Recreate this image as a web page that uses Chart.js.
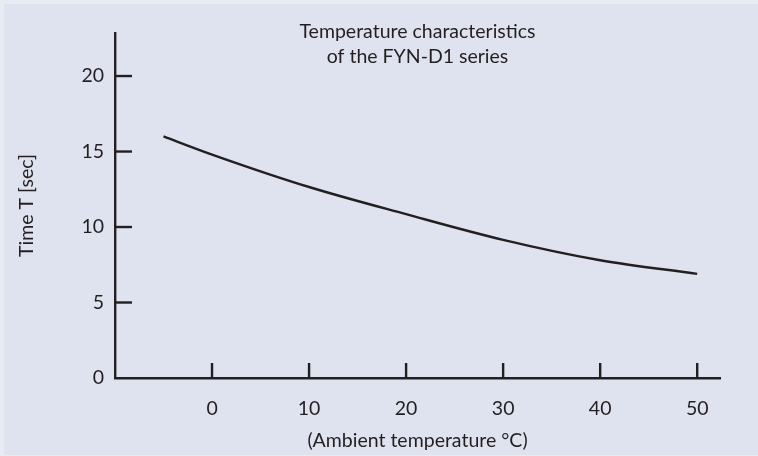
<!DOCTYPE html>
<html>
<head>
<meta charset="utf-8">
<script src="https://cdn.jsdelivr.net/npm/chart.js@4.4.1/dist/chart.umd.min.js"></script>
<style>
  html, body { margin: 0; padding: 0; background: #e9ebf3; }
  #wrap { width: 758px; height: 456px; }
</style>
</head>
<body>
<div id="wrap"><canvas id="grafico" width="758" height="456"></canvas></div>
<script>
// datos
var temperaturas = [-5, 0, 10, 20, 30, 40, 50];
var tiempos = [16, 14.8, 12.65, 10.85, 9.15, 7.8, 6.9];
var ticks_x = [0, 10, 20, 30, 40, 50];
var ticks_y = [0, 5, 10, 15, 20];
var titulo = ['Temperature characteristics', 'of the FYN-D1 series'];

var fuente = 'Lato';
var tam = 19.5;
var negro = '#231f20';

var fondo = {
  id: 'fondo',
  beforeDraw: function (chart) {
    var c = chart.ctx;
    c.save();
    c.fillStyle = '#e9ebf3';
    c.fillRect(0, 0, chart.width, chart.height);
    c.fillStyle = '#dfe3ef';
    c.fillRect(4, 4, chart.width - 4, chart.height - 5);
    c.restore();
  }
};

// marcas hacia adentro y titulo sobre el area
var marcas = {
  id: 'marcas',
  afterDraw: function (chart) {
    var c = chart.ctx;
    var a = chart.chartArea;
    var sx = chart.scales.x, sy = chart.scales.y;
    c.save();
    c.strokeStyle = negro;
    c.lineWidth = 2.4;
    ticks_y.forEach(function (v) {
      if (v === 0) return;
      var py = sy.getPixelForValue(v);
      c.beginPath();
      c.moveTo(a.left, py);
      c.lineTo(a.left + 17, py);
      c.stroke();
    });
    ticks_x.forEach(function (v) {
      var px = sx.getPixelForValue(v);
      c.beginPath();
      c.moveTo(px, a.bottom);
      c.lineTo(px, a.bottom - 15);
      c.stroke();
    });
    c.fillStyle = negro;
    c.font = tam + 'px ' + fuente;
    c.textAlign = 'center';
    c.textBaseline = 'middle';
    var cx = (a.left + a.right) / 2;
    c.fillText(titulo[0], cx, 32);
    c.fillText(titulo[1], cx, 57);
    c.restore();
  }
};

var ctx = document.getElementById('grafico').getContext('2d');
var grafico = new Chart(ctx, {
  type: 'line',
  data: {
    datasets: [{
      data: temperaturas.map(function (t, i) { return { x: t, y: tiempos[i] }; }),
      borderColor: negro,
      borderWidth: 2.4,
      pointRadius: 0,
      fill: false,
      cubicInterpolationMode: 'monotone'
    }]
  },
  options: {
    responsive: false,
    animation: false,
    layout: { padding: { top: 33, right: 38, left: 0, bottom: 0 } },
    plugins: {
      legend: { display: false },
      tooltip: { enabled: false },
      title: { display: false }
    },
    scales: {
      x: {
        type: 'linear',
        min: -10,
        max: 52.35,
        afterBuildTicks: function (s) {
          s.ticks = ticks_x.map(function (v) { return { value: v }; });
        },
        afterFit: function (s) { s.height = 78; },
        grid: { display: false },
        border: { display: true, color: negro, width: 2.4 },
        ticks: {
          color: negro,
          font: { family: fuente, size: tam },
          padding: 11,
          maxRotation: 0
        },
        title: {
          display: true,
          text: '(Ambient temperature °C)',
          color: negro,
          font: { family: fuente, size: tam },
          padding: { top: 6, bottom: 4 }
        }
      },
      y: {
        type: 'linear',
        min: 0,
        max: 22.85,
        afterBuildTicks: function (s) {
          s.ticks = ticks_y.map(function (v) { return { value: v }; });
        },
        afterFit: function (s) { s.width = 115; },
        grid: { display: false },
        border: { display: true, color: negro, width: 2.4 },
        ticks: {
          color: negro,
          font: { family: fuente, size: tam },
          padding: 3
        },
        title: {
          display: true,
          text: 'Time T [sec]',
          color: negro,
          font: { family: fuente, size: tam },
          padding: { top: 15, bottom: 0 }
        }
      }
    }
  },
  plugins: [fondo, marcas]
});
</script>
</body>
</html>
